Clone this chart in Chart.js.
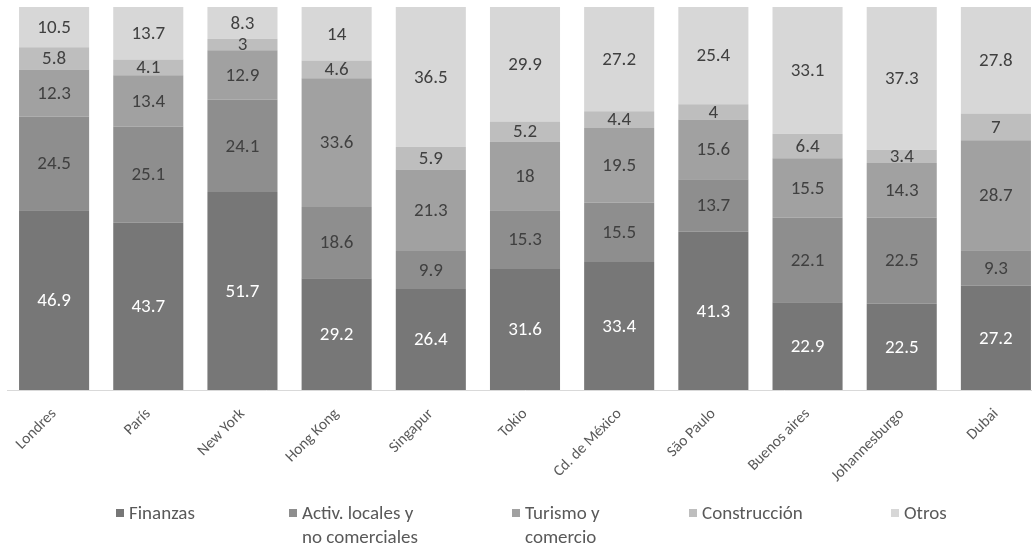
<!DOCTYPE html>
<html>
<head>
<meta charset="utf-8">
<script src="https://cdn.jsdelivr.net/npm/chart.js@4.4.1/dist/chart.umd.min.js"></script>
<style>
    html, body { margin: 0; padding: 0; background: #fff; overflow: hidden; }
    #wrap { position: relative; width: 1044px; height: 546px; }
    #legend { position: absolute; left: 0; top: 0; width: 1032px; height: 546px; pointer-events: none;
              font-family: Carlito, Lato, sans-serif; font-size: 19px; color: #595959; }
    .lg-item { position: absolute; top: 501px; line-height: 24px; }
    .lg-box { position: absolute; left: 0; top: 8px; width: 8px; height: 8px; }
    .lg-text { padding-left: 13px; white-space: nowrap; }
</style>
</head>
<body>
<div id="wrap">
    <canvas id="chart" width="1044" height="546"></canvas>
    <div id="legend"></div>
</div>
<script>
// Sectores económicos por ciudad (%)
const cities = ['Londres', 'París', 'New York', 'Hong Kong', 'Singapur', 'Tokio', 'Cd. de México', 'São Paulo', 'Buenos aires', 'Johannesburgo', 'Dubai'];

const finanzas     = [46.9, 43.7, 51.7, 29.2, 26.4, 31.6, 33.4, 41.3, 22.9, 22.5, 27.2];
const activLocales = [24.5, 25.1, 24.1, 18.6, 9.9, 15.3, 15.5, 13.7, 22.1, 22.5, 9.3];
const turismo      = [12.3, 13.4, 12.9, 33.6, 21.3, 18, 19.5, 15.6, 15.5, 14.3, 28.7];
const construccion = [5.8, 4.1, 3, 4.6, 5.9, 5.2, 4.4, 4, 6.4, 3.4, 7];
const otros        = [10.5, 13.7, 8.3, 14, 36.5, 29.9, 27.2, 25.4, 33.1, 37.3, 27.8];

const seriesLabels = [['Finanzas'], ['Activ. locales y', 'no comerciales'], ['Turismo y', 'comercio'], ['Construcción'], ['Otros']];
const seriesData = [finanzas, activLocales, turismo, construccion, otros];
const seriesColors = ['#777777', '#8e8e8e', '#a1a1a1', '#bebebe', '#d7d7d7'];
const labelColors = ['#ffffff', '#404040', '#404040', '#404040', '#404040'];

const FONT = "Carlito, Lato, sans-serif";

// value printed in the middle of every segment
const segmentLabels = {
    id: 'segmentLabels',
    afterDatasetsDraw(chart) {
        const ctx = chart.ctx;
        ctx.save();
        ctx.font = '19px ' + FONT;
        ctx.textAlign = 'center';
        ctx.textBaseline = 'middle';
        chart.data.datasets.forEach((ds, di) => {
            const meta = chart.getDatasetMeta(di);
            meta.data.forEach((bar, i) => {
                const p = bar.getProps(['x', 'y', 'base'], true);
                ctx.fillStyle = labelColors[di];
                ctx.fillText(String(ds.data[i]), p.x, (p.y + p.base) / 2 + 1);
            });
        });
        ctx.restore();
    }
};

new Chart(document.getElementById('chart'), {
    type: 'bar',
    data: {
        labels: cities,
        datasets: seriesData.map((d, i) => ({
            label: seriesLabels[i].join(' '),
            data: d,
            backgroundColor: seriesColors[i],
            borderWidth: 0,
            barPercentage: 0.744,
            categoryPercentage: 1
        }))
    },
    options: {
        responsive: false,
        animation: false,
        layout: { padding: { left: 7, right: 1, top: 7 } },
        plugins: { legend: { display: false }, tooltip: { enabled: false } },
        scales: {
            x: {
                stacked: true,
                grid: { display: false },
                border: { display: true, color: '#d9d9d9', width: 1 },
                ticks: {
                    color: '#595959',
                    font: { family: FONT, size: 15.5 },
                    minRotation: 45,
                    maxRotation: 45,
                    padding: 7,
                    autoSkip: false
                },
                afterFit(scale) { scale.height = 156; }
            },
            y: {
                stacked: true,
                display: false,
                min: 0,
                max: 100
            }
        }
    },
    plugins: [segmentLabels]
});

// legend below the plot
const legendX = [116, 289, 512, 689, 891];
const legend = document.getElementById('legend');
seriesLabels.forEach((lines, i) => {
    const item = document.createElement('div');
    item.className = 'lg-item';
    item.style.left = legendX[i] + 'px';
    item.innerHTML = '<span class="lg-box" style="background:' + seriesColors[i] + '"></span>' +
        '<div class="lg-text">' + lines.join('<br>') + '</div>';
    legend.appendChild(item);
});
</script>
</body>
</html>
